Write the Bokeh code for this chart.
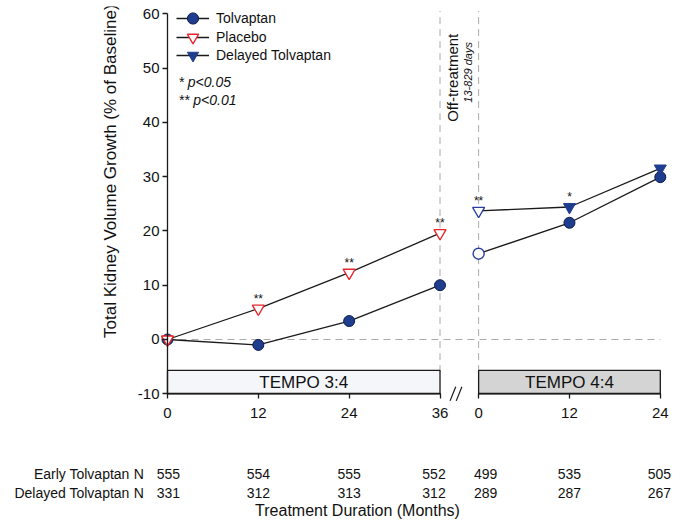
import math
from bokeh.plotting import figure
from bokeh.models import (FixedTicker, Legend, LegendItem, LinearAxis, Range1d)
from bokeh.core.properties import value
from bokeh.embed import file_html
from bokeh.resources import INLINE

# ---------------- data ----------------
months_a = [0, 12, 24, 36]            # TEMPO 3:4 (months)
months_b = [0, 12, 24]                # TEMPO 4:4 (months)
tolvaptan_a = [0.0, -1.0, 3.4, 10.0]
placebo_a = [0.0, 5.7, 12.3, 19.6]
tolvaptan_b = [15.8, 21.5, 29.9]
delayed_b = [23.7, 24.4, 31.5]
sig_placebo_a = ["", "**", "**", "**"]
sig_delayed_b = ["**", "*", ""]
y_ticks = [-10, 0, 10, 20, 30, 40, 50, 60]
x_tick_labels = ["0", "12", "24", "36", "0", "12", "24"]
n_early = ["555", "554", "555", "552", "499", "535", "505"]
n_delayed = ["331", "312", "313", "312", "289", "287", "267"]
series_names = ["Tolvaptan", "Placebo", "Delayed Tolvaptan"]
phase_names = ["TEMPO 3:4", "TEMPO 4:4"]
row_names = ["Early Tolvaptan", "Delayed Tolvaptan"]

# ---------------- layout constants ----------------
GAP = 41.1                       # x position where TEMPO 4:4 month 0 is drawn
FONT = "Liberation Sans"
BLUE = "#1f3d8f"
RED = "#e8262c"
LINE = "#1a1a1a"
DASH = "#aaaaaa"
TXT = "#111111"

xb = [GAP + m for m in months_b]
x_ticks = months_a + xb

p = figure(width=672, height=521, output_backend="svg", toolbar_location=None,
           x_range=Range1d(-21.0, 66.71), y_range=Range1d(-33.52, 61.33),
           x_axis_location="above", min_border_left=8, min_border_right=0,
           min_border_top=6, min_border_bottom=0)
p.outline_line_color = None
p.xgrid.visible = False
p.ygrid.visible = False


def style_axis(ax, ticks):
    ax.ticker = FixedTicker(ticks=ticks)
    ax.major_label_overrides = {float(t): "" for t in ticks}
    ax.major_label_text_font_size = "1px"
    ax.major_label_standoff = 0
    ax.minor_tick_line_color = None
    ax.axis_line_color = LINE
    ax.axis_line_width = 1.3
    ax.major_tick_line_color = LINE
    ax.major_tick_line_width = 1.3


# y axis (drawn at x = 0)
yax = p.yaxis[0]
style_axis(yax, y_ticks)
yax.fixed_location = 0
yax.bounds = (-10, 60)
yax.major_tick_out = 5
yax.major_tick_in = 0

# broken x axis: two pieces drawn at y = -10, ticks pointing down
xax1 = p.xaxis[0]
xax2 = LinearAxis()
p.add_layout(xax2, "above")
for ax, ticks in ((xax1, months_a), (xax2, xb)):
    style_axis(ax, ticks)
    ax.fixed_location = -10
    ax.bounds = (ticks[0], ticks[-1])
    ax.major_tick_in = 5
    ax.major_tick_out = 0

# tick labels
p.text(x=[0] * len(y_ticks), y=y_ticks, text=[str(t) for t in y_ticks], x_offset=-8,
       text_font=value(FONT), text_font_size="15px", text_align="right",
       text_baseline="middle", text_color=TXT)
p.text(x=x_ticks, y=[-13.5] * len(x_ticks), text=x_tick_labels,
       text_font=value(FONT), text_font_size="15px", text_align="center",
       text_baseline="middle", text_color=TXT)

# break marks on the x axis
bx = [36 + (GAP - 36) * 0.26, 36 + (GAP - 36) * 0.42]
p.segment(x0=bx, y0=[-11.3, -11.3], x1=[b + 0.75 for b in bx], y1=[-8.7, -8.7],
          line_color=LINE, line_width=1.2)

# reference dashed lines
p.line([months_a[0], xb[-1]], [0, 0], line_color=DASH, line_dash="7 5", line_width=1)
p.segment(x0=[months_a[-1], xb[0]], y0=[-6, -6], x1=[months_a[-1], xb[0]], y1=[60.5, 60.5],
          line_color=DASH, line_dash="7 5", line_width=1)

# phase boxes
p.quad(left=[months_a[0], xb[0]], right=[months_a[-1], xb[-1]], bottom=[-10, -10],
       top=[-5.7, -5.7], fill_color=["#f4f6fa", "#d4d4d4"], line_color=LINE, line_width=1.3)
p.text(x=[(months_a[0] + months_a[-1]) / 2, (xb[0] + xb[-1]) / 2], y=[-7.85, -7.85],
       text=phase_names, text_font=value(FONT), text_font_size="17px",
       text_align="center", text_baseline="middle", text_color=TXT)

# off-treatment text
p.text(x=[36 + (GAP - 36) * 0.33], y=[48.2], text=["Off-treatment"], angle=math.pi / 2,
       text_font=value(FONT), text_font_size="15px", text_align="center",
       text_baseline="middle", text_color=TXT)
p.text(x=[36 + (GAP - 36) * 0.73], y=[49.2], text=["13-829 days"], angle=math.pi / 2,
       text_font=value(FONT), text_font_size="11px", text_font_style="italic",
       text_align="center", text_baseline="middle", text_color=TXT)

# series
l_tol_a = p.line(months_a, tolvaptan_a, line_color=LINE, line_width=1.3)
s_tol_a = p.scatter(months_a, tolvaptan_a, marker="circle", size=11, fill_color=BLUE,
                    line_color="#0e1c4a", line_width=1)
l_pla_a = p.line(months_a, placebo_a, line_color=LINE, line_width=1.3)
s_pla_a = p.scatter(months_a, placebo_a, marker="inverted_triangle", size=12,
                    fill_color="white", line_color=RED, line_width=1.4)

l_tol_b = p.line(xb, tolvaptan_b, line_color=LINE, line_width=1.3)
p.scatter(xb[:1], tolvaptan_b[:1], marker="circle", size=11, fill_color="white",
          line_color="#2c3f9e", line_width=1.4)
p.scatter(xb[1:], tolvaptan_b[1:], marker="circle", size=11, fill_color=BLUE,
          line_color="#0e1c4a", line_width=1)
l_del_b = p.line(xb, delayed_b, line_color=LINE, line_width=1.3)
p.scatter(xb[:1], delayed_b[:1], marker="inverted_triangle", size=12,
          fill_color="white", line_color="#2c3f9e", line_width=1.4)
s_del_b = p.scatter(xb[1:], delayed_b[1:], marker="inverted_triangle", size=12,
                    fill_color=BLUE, line_color=BLUE, line_width=1)

# significance marks
sig_x = [x for x, s in zip(months_a, sig_placebo_a) if s] + [x for x, s in zip(xb, sig_delayed_b) if s]
sig_y = ([y + 1.8 for y, s in zip(placebo_a, sig_placebo_a) if s]
         + [y + 1.8 for y, s in zip(delayed_b, sig_delayed_b) if s])
sig_t = [s for s in sig_placebo_a if s] + [s for s in sig_delayed_b if s]
p.text(x=sig_x, y=sig_y, text=sig_t, text_font=value(FONT), text_font_size="12px",
       text_align="center", text_baseline="middle", text_color=TXT)

# p-value notes
p.text(x=[1.45, 1.45], y=[47.5, 44.2], text=["* p<0.05", "** p<0.01"],
       text_font=value(FONT), text_font_size="14px", text_font_style="italic",
       text_align="left", text_baseline="middle", text_color=TXT)

# legend: one Legend per entry so the rows can sit close while markers stay large
for i, (name, rends) in enumerate(zip(series_names,
                                      [[l_tol_a, s_tol_a], [l_pla_a, s_pla_a], [l_del_b, s_del_b]])):
    cy = 18.3 + 18.35 * i
    p.add_layout(Legend(items=[LegendItem(label=name, renderers=rends)],
                        location=(168, int(round(521 - cy - 14))),
                        glyph_width=33, glyph_height=28, label_height=28, spacing=0,
                        label_standoff=7, padding=0, margin=0, border_line_color=None,
                        background_fill_alpha=0, label_text_font=FONT,
                        label_text_font_size="14px", label_text_color=TXT))

# y axis title
p.text(x=[-7.5], y=[31.0], text=["Total Kidney Volume Growth (% of Baseline)"],
       angle=math.pi / 2, text_font=value(FONT), text_font_size="17px",
       text_align="center", text_baseline="middle", text_color=TXT)

# N table
row_y = [-24.68, -28.36]
p.text(x=[-5.0, -5.0], y=row_y, text=row_names, text_font=value(FONT),
       text_font_size="14px", text_align="right", text_baseline="middle", text_color=TXT)
p.text(x=[-4.45, -4.45], y=row_y, text=["N", "N"], text_font=value(FONT),
       text_font_size="14px", text_align="left", text_baseline="middle", text_color=TXT)
n_offsets = [1, 0, 0, -6, 7, 0, -1]
for yy, vals in zip(row_y, (n_early, n_delayed)):
    p.text(x=x_ticks, y=[yy] * len(x_ticks), text=vals, x_offset=n_offsets,
           text_font=value(FONT), text_font_size="14px", text_align="center",
           text_baseline="middle", text_color=TXT)

# x axis title
p.text(x=[25.1], y=[-31.45], text=["Treatment Duration (Months)"], text_font=value(FONT),
       text_font_size="16px", text_align="center", text_baseline="middle", text_color=TXT)

open("out.html", "w").write(file_html(p, INLINE))
